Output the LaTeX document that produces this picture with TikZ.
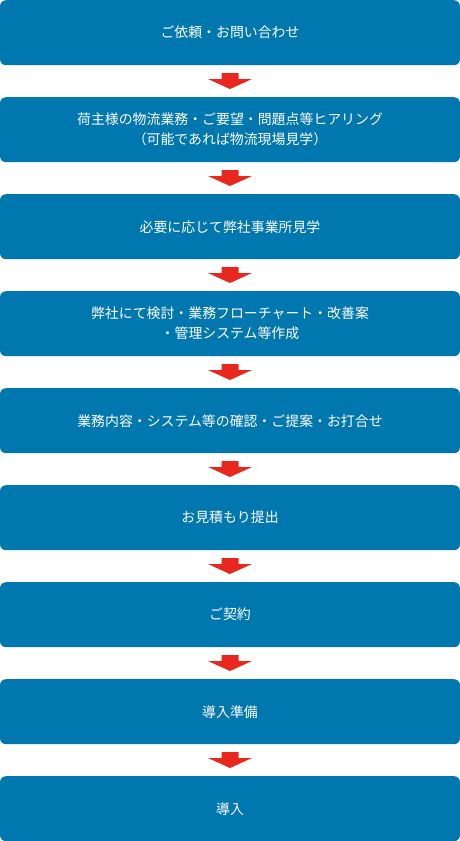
\documentclass[tikz,border=0pt]{standalone}
\usepackage{fontspec}
\newfontfamily\jp{Noto Sans CJK JP}
\definecolor{boxblue}{HTML}{0077AE}
\definecolor{arrred}{HTML}{E8281E}
\begin{document}
\begin{tikzpicture}[x=1pt,y=-1pt,
  stepbox/.style={fill=boxblue,draw=none,rounded corners=6pt,minimum width=460pt,minimum height=65pt,inner sep=0pt,
    text=white,font=\jp\fontsize{13.9}{20}\selectfont,align=center,anchor=north},
  downarrow/.style={fill=arrred,draw=none}]
\useasboundingbox (0,0) rectangle (460,841);
\foreach \i/\t in {1/{ご依頼・お問い合わせ},
  2/{荷主様の物流業務・ご要望・問題点等ヒアリング\\（可能であれば物流現場見学）},
  3/{必要に応じて弊社事業所見学},
  4/{弊社にて検討・業務フローチャート・改善案\\・管理システム等作成},
  5/{業務内容・システム等の確認・ご提案・お打合せ},
  6/{お見積もり提出},
  7/{ご契約},
  8/{導入準備},
  9/{導入}}{
  \node[stepbox] (b\i) at (230,{(\i-1)*97}) {\t};
}
\foreach \i [evaluate=\i as \y using {(\i-1)*97+65}] in {1,...,8}{
  \fill[downarrow] (221.5,\y+8) -- (238.5,\y+8) -- (238.5,\y+14) -- (252,\y+14) -- (230,\y+24) -- (208,\y+14) -- (221.5,\y+14) -- cycle;
}
\end{tikzpicture}
\end{document}
